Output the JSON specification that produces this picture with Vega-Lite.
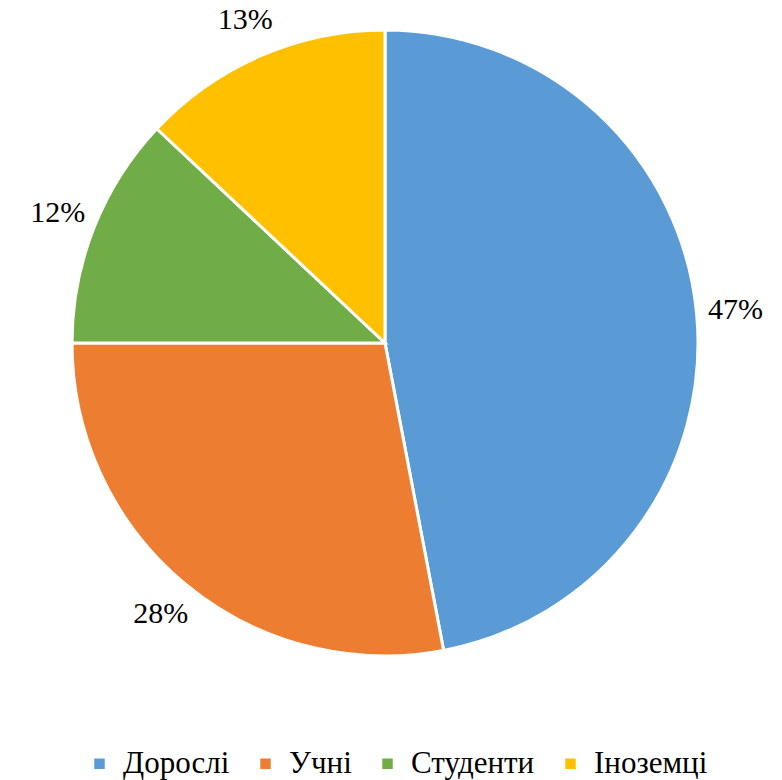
{
  "$schema": "https://vega.github.io/schema/vega-lite/v6.json",
  "width": 770,
  "height": 686,
  "autosize": {"type": "none"},
  "padding": {"left": 0, "top": 0, "right": 12, "bottom": 94},
  "background": "white",
  "config": {"font": "Times New Roman", "view": {"stroke": null}},
  "data": {"values": [
    {"category": "Дорослі", "value": 0.47, "i": 1},
    {"category": "Учні", "value": 0.28, "i": 2},
    {"category": "Студенти", "value": 0.12, "i": 3},
    {"category": "Іноземці", "value": 0.13, "i": 4}
  ]},
  "encoding": {
    "theta": {"field": "value", "type": "quantitative", "stack": true},
    "order": {"field": "i", "type": "quantitative"}
  },
  "layer": [
    {
      "mark": {"type": "arc", "outerRadius": 313, "stroke": "white", "strokeWidth": 3},
      "encoding": {
        "color": {
          "field": "category", "type": "nominal",
          "scale": {"domain": ["Дорослі", "Учні", "Студенти", "Іноземці"], "range": ["#5B9BD5", "#ED7D31", "#70AD47", "#FFC000"]},
          "legend": {
            "title": null, "orient": "none", "direction": "horizontal",
            "legendX": 84, "legendY": 748,
            "symbolType": "square", "symbolSize": 110, "symbolStrokeWidth": 0,
            "labelFont": "Times New Roman", "labelFontSize": 31, "labelColor": "black",
            "labelLimit": 300, "columnPadding": 20, "labelOffset": 8
          }
        }
      }
    },
    {
      "mark": {"type": "text", "radius": 352, "font": "Times New Roman", "fontSize": 30, "color": "black"},
      "encoding": {
        "text": {"field": "value", "type": "quantitative", "format": ".0%"}
      }
    }
  ]
}
